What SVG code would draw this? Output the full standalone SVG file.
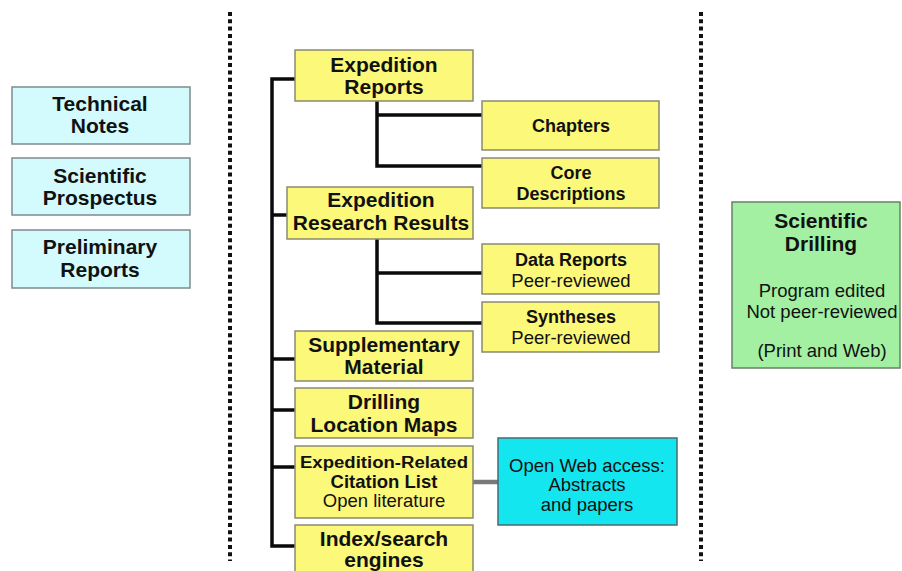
<svg xmlns="http://www.w3.org/2000/svg" width="902" height="571" viewBox="0 0 902 571">
<style>
text{font-family:"Liberation Sans",Arial,sans-serif;fill:#111;text-anchor:middle}
.b{font-weight:bold}
.t21{font-size:21px}
.t18{font-size:18px}
.t185{font-size:18.5px}
.blue rect{fill:#D3FBFD;stroke:#7f8a8c;stroke-width:1.5}
.yel rect{fill:#FCF87A;stroke:#8a8a70;stroke-width:1.5}
.cy rect{fill:#14E6F0;stroke:#4a6a70;stroke-width:1.5}
.gr rect{fill:#A4F0A2;stroke:#6a806a;stroke-width:1.5}
.dots{stroke:#111;stroke-width:4;stroke-dasharray:4 3.3;fill:none}
.conn{stroke:#0a0a0a;stroke-width:3.5;fill:none;stroke-linejoin:miter}
.grey{stroke:#7a7a7a;stroke-width:4.5;fill:none}
</style>
<rect width="902" height="571" fill="#fff"/>
<line class="dots" x1="230" y1="12" x2="230" y2="561"/>
<line class="dots" x1="701" y1="12" x2="701" y2="561"/>

<g id="connectors">
<path class="conn" d="M295,79 H272 V546 H295"/>
<path class="conn" d="M272,215 H287 M272,359 H295 M272,410 H295 M272,467 H295"/>
<path class="conn" d="M377,101 V166 H482 M377,115 H482"/>
<path class="conn" d="M377,239 V323 H482 M377,273 H482"/>
<path class="grey" d="M473,482 H498"/>
</g>

<g id="technical-notes" class="blue">
<rect x="12" y="87" width="178" height="57"/>
<text class="b t21" x="100" y="111">Technical</text>
<text class="b t21" x="100" y="133">Notes</text>
</g>
<g id="scientific-prospectus" class="blue">
<rect x="12" y="158" width="178" height="57"/>
<text class="b t21" x="100" y="183">Scientific</text>
<text class="b t21" x="100" y="205">Prospectus</text>
</g>
<g id="preliminary-reports" class="blue">
<rect x="12" y="230" width="178" height="58"/>
<text class="b t21" x="100" y="254">Preliminary</text>
<text class="b t21" x="100" y="277">Reports</text>
</g>

<g id="expedition-reports" class="yel">
<rect x="295" y="50" width="178" height="51"/>
<text class="b t21" x="384" y="72">Expedition</text>
<text class="b t21" x="384" y="94">Reports</text>
</g>
<g id="chapters" class="yel">
<rect x="482" y="101" width="177" height="49"/>
<text class="b t18" x="571" y="132">Chapters</text>
</g>
<g id="core-descriptions" class="yel">
<rect x="482" y="158" width="177" height="50"/>
<text class="b t18" x="571" y="179">Core</text>
<text class="b t18" x="571" y="200">Descriptions</text>
</g>
<g id="expedition-research-results" class="yel">
<rect x="287" y="187" width="186" height="52"/>
<text class="b t21" x="381" y="207">Expedition</text>
<text class="b t21" x="381" y="230">Research Results</text>
</g>
<g id="data-reports" class="yel">
<rect x="482" y="244" width="177" height="50"/>
<text class="b t18" x="571" y="266">Data Reports</text>
<text class="t185" x="571" y="287">Peer-reviewed</text>
</g>
<g id="syntheses" class="yel">
<rect x="482" y="302" width="177" height="50"/>
<text class="b t18" x="571" y="323">Syntheses</text>
<text class="t185" x="571" y="344">Peer-reviewed</text>
</g>
<g id="supplementary-material" class="yel">
<rect x="295" y="331" width="178" height="50"/>
<text class="b t21" x="384" y="352">Supplementary</text>
<text class="b t21" x="384" y="374">Material</text>
</g>
<g id="drilling-location-maps" class="yel">
<rect x="295" y="388" width="178" height="50"/>
<text class="b t21" x="384" y="409">Drilling</text>
<text class="b t21" x="384" y="432">Location Maps</text>
</g>
<g id="expedition-related-citation-list" class="yel">
<rect x="295" y="446" width="178" height="72"/>
<text class="b" style="font-size:16px" x="384" y="468" textLength="168" lengthAdjust="spacingAndGlyphs">Expedition-Related</text>
<text class="b t185" x="384" y="488">Citation List</text>
<text class="t185" x="384" y="507">Open literature</text>
</g>
<g id="index-search-engines" class="yel">
<rect x="295" y="525" width="178" height="60"/>
<text class="b t21" x="384" y="546">Index/search</text>
<text class="b t21" x="384" y="567">engines</text>
</g>

<g id="open-web-access" class="cy">
<rect x="498" y="438" width="179" height="87"/>
<text class="t185" x="587" y="472">Open Web access:</text>
<text class="t185" x="587" y="491">Abstracts</text>
<text class="t185" x="587" y="511">and papers</text>
</g>

<g id="scientific-drilling" class="gr">
<rect x="732" y="202" width="168" height="166"/>
<text class="b t21" x="821" y="228">Scientific</text>
<text class="b t21" x="821" y="251">Drilling</text>
<text class="t185" x="822" y="297">Program edited</text>
<text class="t185" x="822" y="318">Not peer-reviewed</text>
<text class="t185" x="822" y="357">(Print and Web)</text>
</g>
</svg>
